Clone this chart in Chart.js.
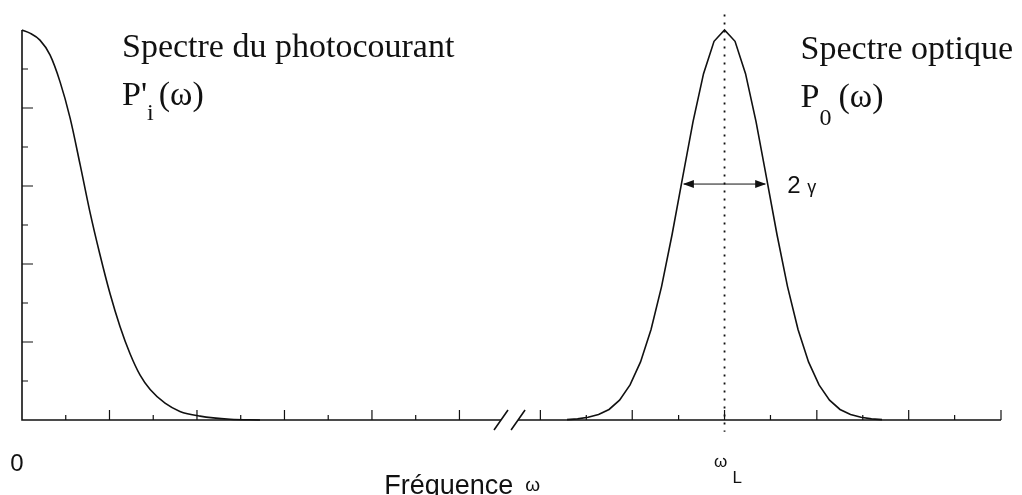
<!DOCTYPE html>
<html>
<head>
<meta charset="utf-8">
<script src="https://cdn.jsdelivr.net/npm/chart.js@4.4.0/dist/chart.umd.min.js"></script>
<style>
  body { margin: 0; background: #fff; }
  canvas { display: block; }
</style>
</head>
<body>
<canvas id="spectrumChart" width="1022" height="495"></canvas>
<script>
  // photocurrent spectrum (left, starts at 0)
  const photoX = [0, 0.18, 0.41, 0.64, 0.87, 1.10, 1.33, 1.55, 1.78, 2.01, 2.24, 2.47, 2.70, 2.93, 3.27, 3.61, 4.07, 4.76, 5.44];
  const photoY = [1.000, 0.992, 0.974, 0.936, 0.867, 0.774, 0.654, 0.535, 0.425, 0.325, 0.240, 0.170, 0.115, 0.078, 0.043, 0.022, 0.010, 0.002, 0];

  // optical spectrum (right, centred on wL)
  const opticalX = [12.46, 12.70, 12.94, 13.18, 13.42, 13.66, 13.90, 14.14, 14.38, 14.62, 14.86, 15.10, 15.34, 15.58, 15.82, 16.06,
    16.30, 16.54, 16.78, 17.02, 17.26, 17.50, 17.74, 17.98, 18.22, 18.46, 18.70, 18.94, 19.18, 19.42, 19.66];
  const opticalY = [0.001, 0.003, 0.007, 0.014, 0.027, 0.051, 0.090, 0.149, 0.232, 0.342, 0.475, 0.621, 0.765, 0.888, 0.971, 1.000,
    0.971, 0.888, 0.765, 0.621, 0.475, 0.342, 0.232, 0.149, 0.090, 0.051, 0.027, 0.014, 0.007, 0.003, 0.001];

  const xTicksLeft = [0, 1, 2, 3, 4, 5, 6, 7, 8, 9, 10];
  const xTicksRight = [11.85, 12.90, 13.95, 15.01, 16.06, 17.11, 18.17, 19.22, 20.27, 21.32, 22.38];
  const yTicks = [0.1, 0.2, 0.3, 0.4, 0.5, 0.6, 0.7, 0.8, 0.9];
  const xBreak = [10.95, 11.34];
  const xMax = 22.38;
  const peakX = 16.06;
  const widthLevel = 0.605;
  const widthHalf = 0.975;

  function toPoints(xs, ys) {
    return xs.map((v, i) => ({ x: v, y: ys[i] }));
  }

  function drawSub(ctx, main, sub, px, py, mainFont, subFont, subDrop, gap) {
    ctx.font = mainFont;
    ctx.fillText(main, px, py);
    let w = ctx.measureText(main).width;
    ctx.font = subFont;
    ctx.fillText(sub, px + w, py + subDrop);
    return px + w + ctx.measureText(sub).width + gap;
  }

  const sketch = {
    id: 'sketch',
    afterDatasetsDraw(chart) {
      const { ctx, scales: { x, y } } = chart;
      const y0 = y.getPixelForValue(0);
      const x0 = x.getPixelForValue(0);
      ctx.save();
      ctx.strokeStyle = '#111';
      ctx.fillStyle = '#111';
      ctx.lineWidth = 1.6;
      ctx.lineCap = 'butt';

      // axes
      ctx.beginPath();
      ctx.moveTo(x0, y.getPixelForValue(1));
      ctx.lineTo(x0, y0);
      ctx.lineTo(x.getPixelForValue(xBreak[0]), y0);
      ctx.moveTo(x.getPixelForValue(xBreak[1]), y0);
      ctx.lineTo(x.getPixelForValue(xMax), y0);
      ctx.stroke();

      // break marks
      ctx.beginPath();
      xBreak.forEach(v => {
        const bx = x.getPixelForValue(v);
        ctx.moveTo(bx - 7, y0 + 10);
        ctx.lineTo(bx + 7, y0 - 10);
      });
      ctx.stroke();

      // ticks
      ctx.lineWidth = 1.2;
      ctx.beginPath();
      xTicksLeft.forEach((v, i) => {
        if (i === 0) return;
        const tx = x.getPixelForValue(v);
        ctx.moveTo(tx, y0);
        ctx.lineTo(tx, y0 - (i % 2 === 0 ? 10 : 5));
      });
      xTicksRight.forEach((v, i) => {
        const tx = x.getPixelForValue(v);
        ctx.moveTo(tx, y0);
        ctx.lineTo(tx, y0 - (i % 2 === 0 ? 10 : 5));
      });
      yTicks.forEach((v, i) => {
        const ty = y.getPixelForValue(v);
        ctx.moveTo(x0, ty);
        ctx.lineTo(x0 + (i % 2 === 1 ? 11 : 6), ty);
      });
      ctx.stroke();

      // dotted line at wL
      const px = x.getPixelForValue(peakX);
      ctx.lineWidth = 1.8;
      ctx.setLineDash([2, 6]);
      ctx.beginPath();
      ctx.moveTo(px, y.getPixelForValue(1.04));
      ctx.lineTo(px, y.getPixelForValue(-0.03));
      ctx.stroke();
      ctx.setLineDash([]);

      // 2 gamma arrow
      const ay = y.getPixelForValue(widthLevel);
      const ax1 = x.getPixelForValue(peakX - widthHalf);
      const ax2 = x.getPixelForValue(peakX + widthHalf);
      ctx.lineWidth = 1;
      ctx.beginPath();
      ctx.moveTo(ax1 + 2, ay);
      ctx.lineTo(ax2 - 2, ay);
      ctx.stroke();
      ctx.beginPath();
      ctx.moveTo(ax1 + 1, ay);
      ctx.lineTo(ax1 + 12, ay - 4);
      ctx.lineTo(ax1 + 12, ay + 4);
      ctx.closePath();
      ctx.moveTo(ax2 - 1, ay);
      ctx.lineTo(ax2 - 12, ay - 4);
      ctx.lineTo(ax2 - 12, ay + 4);
      ctx.closePath();
      ctx.fill();

      // texts
      ctx.textBaseline = 'alphabetic';
      ctx.textAlign = 'left';
      const serif = '"Liberation Serif", "Times New Roman", serif';
      const sans = '"Liberation Sans", Arial, sans-serif';

      ctx.font = '34px ' + serif;
      ctx.fillText('Spectre du photocourant', x0 + 100, 57);
      let nx = drawSub(ctx, "P'", 'i', x0 + 100, 105, '34px ' + serif, '24px ' + serif, 15, 5);
      ctx.font = '34px ' + serif;
      ctx.fillText('(\u03c9)', nx, 105);

      ctx.font = '34px ' + serif;
      ctx.fillText('Spectre optique', px + 76, 59);
      nx = drawSub(ctx, 'P', '0', px + 76, 107, '34px ' + serif, '24px ' + serif, 18, 7);
      ctx.font = '34px ' + serif;
      ctx.fillText('(\u03c9)', nx, 107);

      ctx.font = '24px ' + sans;
      ctx.fillText('2', ax2 + 20, ay + 9);
      ctx.font = '18px ' + sans;
      ctx.fillText('\u03b3', ax2 + 40, ay + 9);

      ctx.font = '24px ' + sans;
      ctx.textAlign = 'center';
      ctx.fillText('0', x0 - 5, 471);
      ctx.font = '17px ' + sans;
      ctx.fillText('\u03c9', px - 4, 467);
      ctx.textAlign = 'left';
      ctx.font = '17px ' + sans;
      ctx.fillText('L', px + 8, 483);

      ctx.font = '27px ' + sans;
      ctx.fillText('Fr\u00e9quence', x.getPixelForValue(8.28), 494);
      const fw = ctx.measureText('Fr\u00e9quence').width;
      ctx.font = '19px ' + sans;
      ctx.fillText('\u03c9', x.getPixelForValue(8.28) + fw + 12, 491);
      ctx.restore();
    }
  };

  const ctx = document.getElementById('spectrumChart').getContext('2d');
  new Chart(ctx, {
    type: 'scatter',
    data: {
      datasets: [{
        label: "P'i",
        data: toPoints(photoX, photoY),
        showLine: true,
        borderColor: '#111',
        borderWidth: 1.6,
        pointRadius: 0,
        cubicInterpolationMode: 'monotone',
        clip: 6
      }, {
        label: 'P0',
        data: toPoints(opticalX, opticalY),
        showLine: true,
        borderColor: '#111',
        borderWidth: 1.6,
        pointRadius: 0,
        tension: 0,
        clip: 6
      }]
    },
    options: {
      responsive: false,
      animation: false,
      layout: { padding: { left: 22, right: 21, top: 30, bottom: 75 } },
      plugins: { legend: { display: false }, tooltip: { enabled: false } },
      scales: {
        x: { type: 'linear', min: 0, max: xMax, display: false },
        y: { min: 0, max: 1, display: false }
      }
    },
    plugins: [sketch]
  });
</script>
</body>
</html>
